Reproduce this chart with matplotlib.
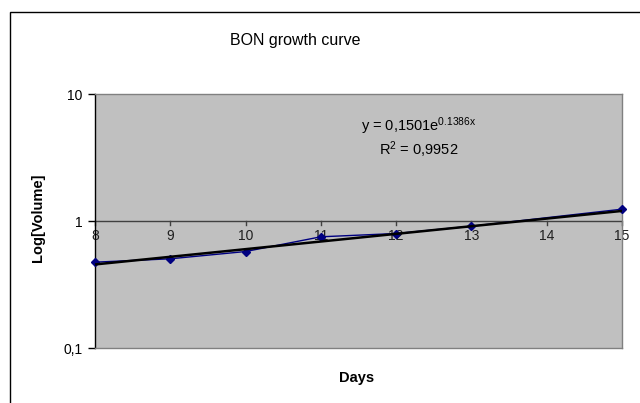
import numpy as np
import matplotlib
matplotlib.use('Agg')
import matplotlib.pyplot as plt
from matplotlib.patches import Rectangle
from matplotlib.ticker import FixedLocator, NullLocator

plt.rcParams['font.family'] = ['Liberation Sans', 'DejaVu Sans']
plt.rcParams['mathtext.default'] = 'regular'

# measured culture volume per day
days = [8, 9, 10, 11, 12, 13, 15]
volume = [0.474, 0.504, 0.575, 0.751, 0.797, 0.910, 1.239]

# exponential trendline y = a * exp(b * x)
fit_a = 0.1501
fit_b = 0.1386
fit_r2 = 0.9952

y_ticks = [0.1, 1, 10]
y_tick_labels = ['0,1', '1', '10']
x_ticks = [8, 9, 10, 11, 12, 13, 14, 15]

W, H = 640, 403
fig = plt.figure(figsize=(W / 100, H / 100), dpi=100)
fig.patch.set_facecolor('white')

# chart-area frame (runs off the right and bottom edges)
fig.add_artist(Rectangle((10 / W, -0.1), 1.2, 1 - 12 / H + 0.1,
                         transform=fig.transFigure, fill=False,
                         edgecolor='black', linewidth=1.0))

ax = fig.add_axes([95 / W, 1 - 348 / H, (622 - 95) / W, (348 - 94) / H])
ax.set_facecolor('#C0C0C0')
ax.set_yscale('log')
ax.set_xlim(8, 15)
ax.set_ylim(0.1, 10)

for s in ('top', 'right', 'bottom'):
    ax.spines[s].set_color('#808080')
    ax.spines[s].set_linewidth(1.0)
ax.spines['left'].set_color('black')
ax.spines['left'].set_linewidth(1.0)

ax.yaxis.set_major_locator(FixedLocator(y_ticks))
ax.yaxis.set_minor_locator(NullLocator())
ax.set_yticklabels(y_tick_labels)
ax.tick_params(axis='y', direction='out', length=5, width=1, color='black',
               labelsize=10, pad=4)

# the category axis crosses at y = 1, labels sit just under it
ax.set_xticks([])
ax.axhline(1, color='#404040', linewidth=1.0, zorder=2)
for d in x_ticks:
    ax.plot([d, d], [1, 0.93], color='#404040', linewidth=1.0, zorder=2,
            clip_on=False)
    ax.text(d, 0.765, str(d), ha='center', va='center', fontsize=10,
            color='#202020', zorder=2)

# data series and trendline
xs = np.linspace(days[0], days[-1], 200)
ax.plot(days, volume, color='#000080', linewidth=1.0, marker='D',
        markersize=4.5, markerfacecolor='#000080', markeredgecolor='#000080',
        zorder=3, clip_on=False)
ax.plot(xs, fit_a * np.exp(fit_b * xs), color='black', linewidth=1.8,
        zorder=4)

eq = f'y = {fit_a}e'.replace('.', ',') + f'$^{{{fit_b}x}}$'
ax.text(0.615, 0.875, eq, transform=ax.transAxes, ha='center', va='center',
        fontsize=10.5)
ax.text(0.615, 0.78, 'R$^{2}$ = ' + f'{fit_r2}'.replace('.', ','),
        transform=ax.transAxes, ha='center', va='center', fontsize=10.5)

fig.text(295 / W, 1 - 40 / H, 'BON growth curve', ha='center', va='center',
         fontsize=11.5)
fig.text(38 / W, 1 - 218 / H, 'Log[Volume]', ha='center', va='center',
         rotation=90, fontsize=10.5, fontweight='bold')
fig.text(357 / W, 1 - 378 / H, 'Days', ha='center', va='center',
         fontsize=10.5, fontweight='bold')

fig.savefig('out.png', dpi=100, facecolor='white')
